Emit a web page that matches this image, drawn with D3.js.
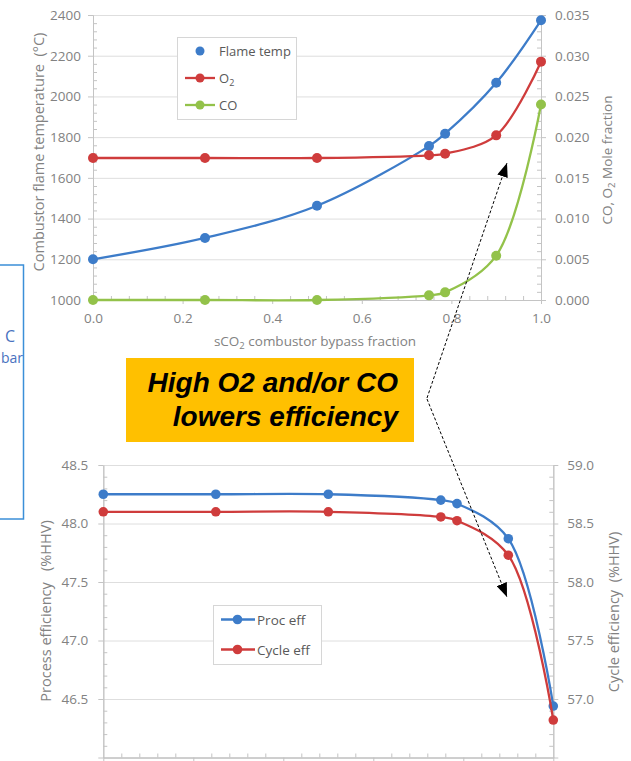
<!DOCTYPE html>
<html>
<head>
<meta charset="utf-8">
<script src="https://cdn.jsdelivr.net/npm/d3@7"></script>
<style>
  html, body { margin: 0; padding: 0; background: #ffffff; }
  svg { display: block; }
  text { font-family: "Open Sans", "Noto Sans", sans-serif; white-space: pre; }
</style>
</head>
<body>
<svg id="chart" width="631" height="761"></svg>
<script>
// sCO2 combustor bypass fraction (shared x values)
const bypass = [0, 0.25, 0.5, 0.75, 0.786, 0.9, 1.0];

// Combustor results
const flameTemp = [1200, 1305, 1463, 1756, 1817, 2067, 2374];           // °C
const o2Frac    = [0.01744, 0.01744, 0.01744, 0.01777, 0.01797, 0.02022, 0.02927];
const coFrac    = [0, 0, 0, 0.00057, 0.00094, 0.00544, 0.0240];

// Efficiencies (%HHV)
const procEff  = [48.25, 48.25, 48.25, 48.20, 48.17, 47.87, 46.44];
const cycleEff = [58.60, 58.60, 58.60, 58.556, 58.524, 58.229, 56.82];

// Tick values
const xTicks       = [0, 0.2, 0.4, 0.6, 0.8, 1.0];
const tempTicks    = [1000, 1200, 1400, 1600, 1800, 2000, 2200, 2400];
const moleTicks    = [0, 0.005, 0.01, 0.015, 0.02, 0.025, 0.03, 0.035];
const procTicks    = [46.5, 47.0, 47.5, 48.0, 48.5];
const cycleTicks   = [57.0, 57.5, 58.0, 58.5, 59.0];

const C = { blue: "#3d7cc9", red: "#cf3c3c", green: "#93c24a",
            grid: "#dedede", axis: "#c4c4c4", tick: "#828282", legend: "#595959" };

const svg = d3.select("#chart");

// minor ticks: five subdivisions of each major step
function minors(major) {
  const out = [];
  for (let i = 0; i < major.length - 1; i++) {
    const a = major[i], b = major[i + 1];
    for (let k = 1; k < 5; k++) out.push(a + (b - a) * k / 5);
  }
  return out;
}

function styleAxis(g) {
  g.select(".domain").attr("stroke", C.axis).attr("stroke-width", 1);
  g.selectAll(".tick line").attr("stroke", C.axis);
  g.selectAll(".tick text").attr("fill", C.tick).style("font-size", "13.5px");
}

function drawChart(cfg) {
  const { x, yL, yR, xT, yLT, yRT, series, fmtL, fmtR, labelOffL, labelOffR, xLabels } = cfg;
  const [x0, x1] = x.range();
  const [yb] = yL.range();
  const g = svg.append("g");

  // horizontal gridlines
  g.append("g")
    .attr("transform", `translate(${x0},0)`)
    .call(d3.axisLeft(yL).tickValues(yLT).tickSize(-(x1 - x0)).tickFormat(""))
    .call(a => a.select(".domain").remove())
    .call(a => a.selectAll("line").attr("stroke", C.grid));

  // left axis: minor ticks inside, major ticks outside
  g.append("g").attr("transform", `translate(${x0},0)`)
    .call(d3.axisLeft(yL).tickValues(minors(yLT)).tickSize(-4).tickFormat("").tickSizeOuter(0))
    .call(styleAxis);
  g.append("g").attr("transform", `translate(${x0},0)`)
    .call(d3.axisLeft(yL).tickValues(yLT).tickSize(5).tickPadding(labelOffL - 5).tickFormat(fmtL).tickSizeOuter(0))
    .call(styleAxis);

  // right axis
  g.append("g").attr("transform", `translate(${x1},0)`)
    .call(d3.axisRight(yR).tickValues(minors(yRT)).tickSize(-4).tickFormat("").tickSizeOuter(0))
    .call(styleAxis);
  g.append("g").attr("transform", `translate(${x1},0)`)
    .call(d3.axisRight(yR).tickValues(yRT).tickSize(5).tickPadding(labelOffR - 5).tickFormat(fmtR).tickSizeOuter(0))
    .call(styleAxis);

  // bottom axis
  g.append("g").attr("transform", `translate(0,${yb})`)
    .call(d3.axisBottom(x).tickValues(minors(xT)).tickSize(-4).tickFormat("").tickSizeOuter(0))
    .call(styleAxis);
  g.append("g").attr("transform", `translate(0,${yb})`)
    .call(d3.axisBottom(x).tickValues(xT).tickSize(4).tickPadding(9)
      .tickFormat(xLabels ? d3.format(".1f") : "").tickSizeOuter(0))
    .call(styleAxis);

  // series
  series.forEach(s => {
    const pts = bypass.map((b, i) => [x(b), s.scale(s.values[i])]);
    g.append("path")
      .attr("d", d3.line().curve(d3.curveCatmullRom.alpha(0.5))(pts))
      .attr("fill", "none").attr("stroke", s.color).attr("stroke-width", 2.3);
    g.append("g").selectAll("circle").data(pts).join("circle")
      .attr("cx", d => d[0]).attr("cy", d => d[1]).attr("r", s.r)
      .attr("fill", s.color);
  });
  return g;
}

// ---------- Top chart: flame temperature, O2 and CO ----------
const xTop  = d3.scaleLinear().domain([0, 1]).range([93, 541]);
const yTemp = d3.scaleLinear().domain([1000, 2400]).range([300, 15]);
const yMole = d3.scaleLinear().domain([0, 0.035]).range([300, 15]);

drawChart({
  x: xTop, yL: yTemp, yR: yMole, xT: xTicks, yLT: tempTicks, yRT: moleTicks,
  fmtL: d3.format("d"), fmtR: d3.format(".3f"), labelOffL: 12, labelOffR: 14, xLabels: true,
  series: [
    { values: flameTemp, scale: yTemp, color: C.blue, r: 5 },
    { values: o2Frac, scale: yMole, color: C.red, r: 5 },
    { values: coFrac, scale: yMole, color: C.green, r: 5 }
  ]
});

// axis titles (top chart)
svg.append("text")
  .attr("transform", "translate(44,152) rotate(-90)")
  .attr("text-anchor", "middle").attr("fill", C.tick).style("font-size", "14.5px")
  .text("Combustor flame temperature  (°C)");

const rt = svg.append("text")
  .attr("transform", "translate(612,160) rotate(-90)")
  .attr("text-anchor", "middle").attr("fill", C.tick).style("font-size", "13.5px");
rt.append("tspan").text("CO, O");
rt.append("tspan").attr("dy", 3).style("font-size", "9.5px").text("2");
rt.append("tspan").attr("dy", -3).text(" Mole fraction");

const xt = svg.append("text")
  .attr("x", 315).attr("y", 346)
  .attr("text-anchor", "middle").attr("fill", C.tick).style("font-size", "13.5px");
xt.append("tspan").text("sCO");
xt.append("tspan").attr("dy", 3).style("font-size", "9.5px").text("2");
xt.append("tspan").attr("dy", -3).text(" combustor bypass fraction");

// legend (top chart)
const legTop = svg.append("g");
legTop.append("rect").attr("x", 177.5).attr("y", 37.5).attr("width", 119).attr("height", 82)
  .attr("fill", "#ffffff").attr("stroke", "#d6d6d6");
const topItems = [
  { label: ["Flame temp"], color: C.blue, line: false, y: 51 },
  { label: ["O", "2"], color: C.red, line: true, y: 78 },
  { label: ["CO"], color: C.green, line: true, y: 105 }
];
topItems.forEach(it => {
  if (it.line) legTop.append("line").attr("x1", 185).attr("x2", 215).attr("y1", it.y).attr("y2", it.y)
    .attr("stroke", it.color).attr("stroke-width", 2.3);
  legTop.append("circle").attr("cx", 200).attr("cy", it.y).attr("r", 4.5).attr("fill", it.color);
  const t = legTop.append("text").attr("x", 219).attr("y", it.y + 4.5)
    .attr("fill", C.legend).style("font-size", "13px");
  t.append("tspan").text(it.label[0]);
  if (it.label[1]) t.append("tspan").attr("dy", 3).style("font-size", "9px").text(it.label[1]);
});

// ---------- Bottom chart: process and cycle efficiency ----------
const xBot   = d3.scaleLinear().domain([0, 1]).range([103.3, 553.3]);
const yProc  = d3.scaleLinear().domain([46.0, 48.5]).range([757.5, 465]);
const yCycle = d3.scaleLinear().domain([56.5, 59.0]).range([757.5, 465]);

drawChart({
  x: xBot, yL: yProc, yR: yCycle, xT: xTicks,
  yLT: [46.0].concat(procTicks), yRT: [56.5].concat(cycleTicks),
  fmtL: d => d >= 46.5 ? d3.format(".1f")(d) : "", fmtR: d => d >= 57 ? d3.format(".1f")(d) : "",
  labelOffL: 15, labelOffR: 14, xLabels: false,
  series: [
    { values: procEff, scale: yProc, color: C.blue, r: 4.8 },
    { values: cycleEff, scale: yCycle, color: C.red, r: 4.8 }
  ]
});

svg.append("text")
  .attr("transform", "translate(51,611) rotate(-90)")
  .attr("text-anchor", "middle").attr("fill", C.tick).style("font-size", "14.5px")
  .text("Process efficiency   (%HHV)");
svg.append("text")
  .attr("transform", "translate(619,612) rotate(-90)")
  .attr("text-anchor", "middle").attr("fill", C.tick).style("font-size", "14.5px")
  .text("Cycle efficiency  (%HHV)");

// legend (bottom chart)
const legBot = svg.append("g");
legBot.append("rect").attr("x", 213.5).attr("y", 605.5).attr("width", 108).attr("height", 59)
  .attr("fill", "#ffffff").attr("stroke", "#d6d6d6");
[{ label: "Proc eff", color: C.blue, y: 619.5 }, { label: "Cycle eff", color: C.red, y: 649.5 }]
  .forEach(it => {
    legBot.append("line").attr("x1", 221).attr("x2", 255).attr("y1", it.y).attr("y2", it.y)
      .attr("stroke", it.color).attr("stroke-width", 2.3);
    legBot.append("circle").attr("cx", 237.5).attr("cy", it.y).attr("r", 4.8).attr("fill", it.color);
    legBot.append("text").attr("x", 257).attr("y", it.y + 5)
      .attr("fill", C.legend).style("font-size", "13.5px").text(it.label);
  });

// ---------- Side note box (partly off the left edge) ----------
svg.append("rect").attr("x", -10).attr("y", 265).attr("width", 33.5).attr("height", 254)
  .attr("fill", "none").attr("stroke", "#3b8fd8").attr("stroke-width", 1.5);
svg.append("text").attr("x", 15).attr("y", 342).attr("text-anchor", "end")
  .attr("fill", "#4a72c0").style("font-size", "16px").text("C");
svg.append("text").attr("x", 1).attr("y", 363).attr("text-anchor", "start")
  .attr("fill", "#4a72c0").style("font-size", "14px").text("bar");

// ---------- Callout ----------
svg.append("rect").attr("x", 126).attr("y", 358).attr("width", 288).attr("height", 84)
  .attr("fill", "#ffc000");
const call = svg.append("text").attr("text-anchor", "end")
  .style("font-family", "'Liberation Sans', Arial, sans-serif")
  .style("font-weight", "bold").style("font-style", "italic").style("font-size", "28px")
  .attr("fill", "#000000");
call.append("tspan").attr("x", 398).attr("y", 392).text("High O2 and/or CO");
call.append("tspan").attr("x", 398).attr("y", 426).text("lowers efficiency");

// dashed pointer arrows
const defs = svg.append("defs");
defs.append("marker").attr("id", "head").attr("viewBox", "0 0 14 11")
  .attr("refX", 14).attr("refY", 5.5).attr("markerWidth", 14).attr("markerHeight", 11)
  .attr("markerUnits", "userSpaceOnUse").attr("orient", "auto")
  .append("path").attr("d", "M0,0 L14,5.5 L0,11 Z").attr("fill", "#000");
[[427, 398, 507, 163], [427, 399, 507, 597]].forEach(([ax, ay, bx, by]) => {
  svg.append("line").attr("x1", ax).attr("y1", ay).attr("x2", bx).attr("y2", by)
    .attr("stroke", "#000").attr("stroke-width", 1).attr("stroke-dasharray", "3,2")
    .attr("marker-end", "url(#head)");
});
</script>
</body>
</html>
